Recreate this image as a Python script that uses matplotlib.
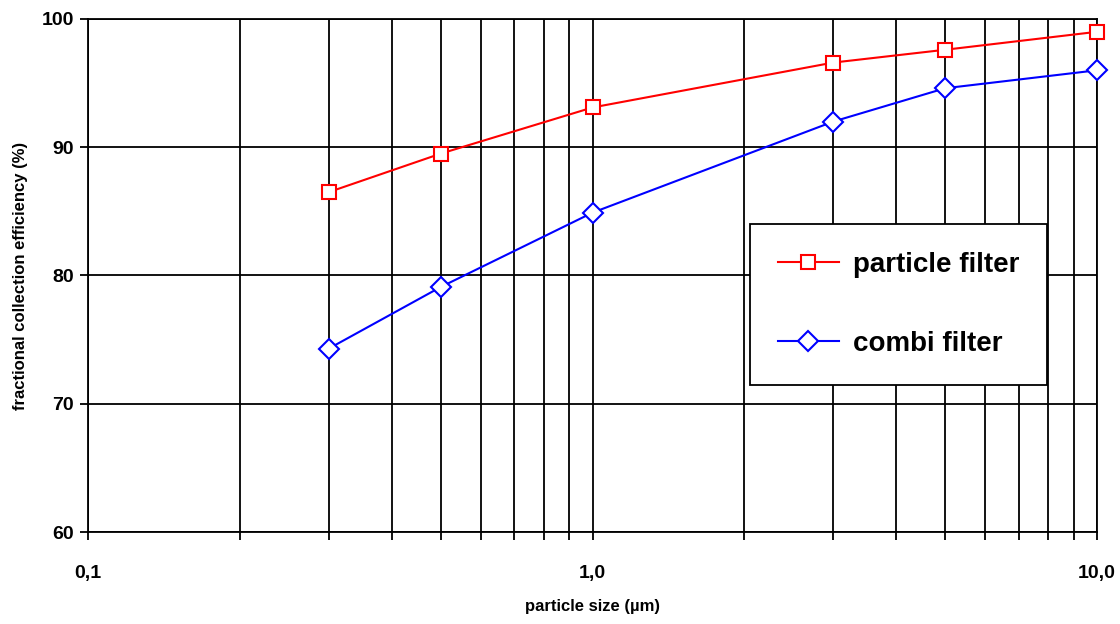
import matplotlib.pyplot as plt
from matplotlib.ticker import FixedLocator, LogLocator, NullFormatter

plt.rcParams['font.family'] = ['Liberation Sans', 'DejaVu Sans']

# particle size (um) and fractional collection efficiency (%)
sizes = [0.3, 0.5, 1.0, 3.0, 5.0, 10.0]
particle_filter = [86.5, 89.5, 93.1, 96.6, 97.6, 99.0]
combi_filter = [74.3, 79.1, 84.9, 92.0, 94.6, 96.0]

x_ticks = [0.1, 1.0, 10.0]
x_tick_labels = ["0,1", "1,0", "10,0"]
y_ticks = [60, 70, 80, 90, 100]

fig = plt.figure(figsize=(11.2, 6.24), dpi=100)
ax = fig.add_axes([0.0786, 0.1474, 0.9009, 0.8222])

ax.plot(sizes, particle_filter, color="red", lw=1.5, marker="s", ms=10,
        mfc="white", mec="red", mew=1.5, label="particle filter", zorder=3,
        clip_on=False)
ax.plot(sizes, combi_filter, color="blue", lw=1.5, marker="D", ms=10,
        mfc="white", mec="blue", mew=1.5, label="combi filter", zorder=3,
        clip_on=False)

ax.set_xscale("log")
ax.set_xlim(0.1, 10)
ax.set_ylim(60, 100)
ax.xaxis.set_major_locator(FixedLocator(x_ticks))
ax.set_xticklabels(x_tick_labels)
ax.xaxis.set_minor_locator(LogLocator(base=10, subs=range(2, 10)))
ax.xaxis.set_minor_formatter(NullFormatter())
ax.set_yticks(y_ticks)

ax.grid(which="both", axis="x", color="black", lw=1.3)
ax.grid(which="major", axis="y", color="black", lw=1.3)
ax.set_axisbelow(True)
for s in ax.spines.values():
    s.set_linewidth(1.3)

ax.tick_params(which="both", direction="out", length=6, width=1.3)
ax.tick_params(axis="x", which="major", pad=18, labelsize=14)
ax.tick_params(axis="y", pad=4, labelsize=14)
for lbl in ax.get_xticklabels() + ax.get_yticklabels():
    lbl.set_fontweight("bold")

ax.set_xlabel("particle size (\u00b5m)", fontsize=12, fontweight="bold",
              labelpad=12)
ax.set_ylabel("fractional collection efficiency (%)", fontsize=12,
              fontweight="bold", labelpad=10)

leg = ax.legend(loc="center", bbox_to_anchor=(0.645, 0.283, 0.316, 0.321),
                frameon=True, fancybox=False, framealpha=1, edgecolor="black",
                prop={"size": 20, "weight": "bold"}, handlelength=2.2,
                labelspacing=1.9, borderpad=1.0, handletextpad=0.5)
leg.get_frame().set_linewidth(1.3)

fig.savefig("out.png", dpi=100)
